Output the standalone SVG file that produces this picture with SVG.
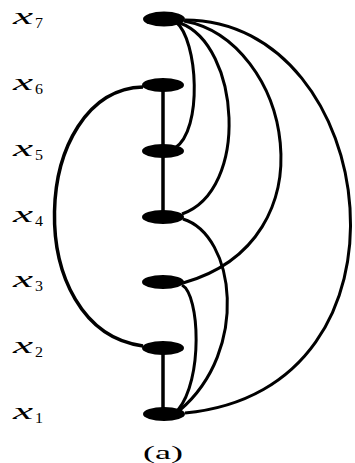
<svg xmlns="http://www.w3.org/2000/svg" width="355" height="463" viewBox="0 0 355 463">
<style>
.n{fill:#000}
.e{fill:none;stroke:#000;stroke-width:3}
.v{fill:none;stroke:#000;stroke-width:3.5}
.lb{font-family:"Liberation Serif",serif;font-style:italic;font-size:24px;fill:#000}
.sb{font-family:"Liberation Serif",serif;font-size:15px;fill:#000}
.cap{font-family:"Liberation Serif",serif;font-size:18px;fill:#000}
</style>
<rect width="355" height="463" fill="#fff"/>
<g id="edges">
<path class="v" d="M163,85 L163,151"/>
<path class="v" d="M163,151 L163,217"/>
<path class="v" d="M163,348 L163,413"/>
<path class="e" d="M176,22 C198,40 203,130 175,148"/>
<path class="e" d="M180,23 C240,45 250,190 182,214"/>
<path class="e" d="M184,21 C290,40 335,240 183,283"/>
<path class="e" d="M185,20 C380,20 430,390 185,413"/>
<path class="e" style="stroke-width:3.5" d="M143,87 C30,90 20,330 143,346"/>
<path class="e" d="M183,219 C235,235 250,350 180,410"/>
<path class="e" d="M182,285 C200,295 203,380 178,410"/>
</g>
<g id="x7"><ellipse class="n" cx="164" cy="19" rx="21" ry="7.5"/><text class="lb" x="13" y="24" textLength="20" lengthAdjust="spacingAndGlyphs">x</text><text class="sb" x="35" y="28" textLength="8" lengthAdjust="spacingAndGlyphs">7</text></g>
<g id="x6"><ellipse class="n" cx="163" cy="85" rx="21" ry="7"/><text class="lb" x="13" y="90" textLength="20" lengthAdjust="spacingAndGlyphs">x</text><text class="sb" x="35" y="94" textLength="8" lengthAdjust="spacingAndGlyphs">6</text></g>
<g id="x5"><ellipse class="n" cx="163" cy="151" rx="21" ry="7"/><text class="lb" x="13" y="156" textLength="20" lengthAdjust="spacingAndGlyphs">x</text><text class="sb" x="35" y="160" textLength="8" lengthAdjust="spacingAndGlyphs">5</text></g>
<g id="x4"><ellipse class="n" cx="163" cy="217" rx="21" ry="7"/><text class="lb" x="13" y="222" textLength="20" lengthAdjust="spacingAndGlyphs">x</text><text class="sb" x="35" y="226" textLength="8" lengthAdjust="spacingAndGlyphs">4</text></g>
<g id="x3"><ellipse class="n" cx="163" cy="282" rx="21" ry="7"/><text class="lb" x="13" y="287" textLength="20" lengthAdjust="spacingAndGlyphs">x</text><text class="sb" x="35" y="291" textLength="8" lengthAdjust="spacingAndGlyphs">3</text></g>
<g id="x2"><ellipse class="n" cx="163" cy="348" rx="21" ry="7"/><text class="lb" x="13" y="353" textLength="20" lengthAdjust="spacingAndGlyphs">x</text><text class="sb" x="35" y="357" textLength="8" lengthAdjust="spacingAndGlyphs">2</text></g>
<g id="x1"><ellipse class="n" cx="164" cy="414" rx="21" ry="7"/><text class="lb" x="13" y="419" textLength="20" lengthAdjust="spacingAndGlyphs">x</text><text class="sb" x="35" y="423" textLength="8" lengthAdjust="spacingAndGlyphs">1</text></g>
<text class="cap" x="143" y="459" textLength="40" lengthAdjust="spacingAndGlyphs">(a)</text>
</svg>
